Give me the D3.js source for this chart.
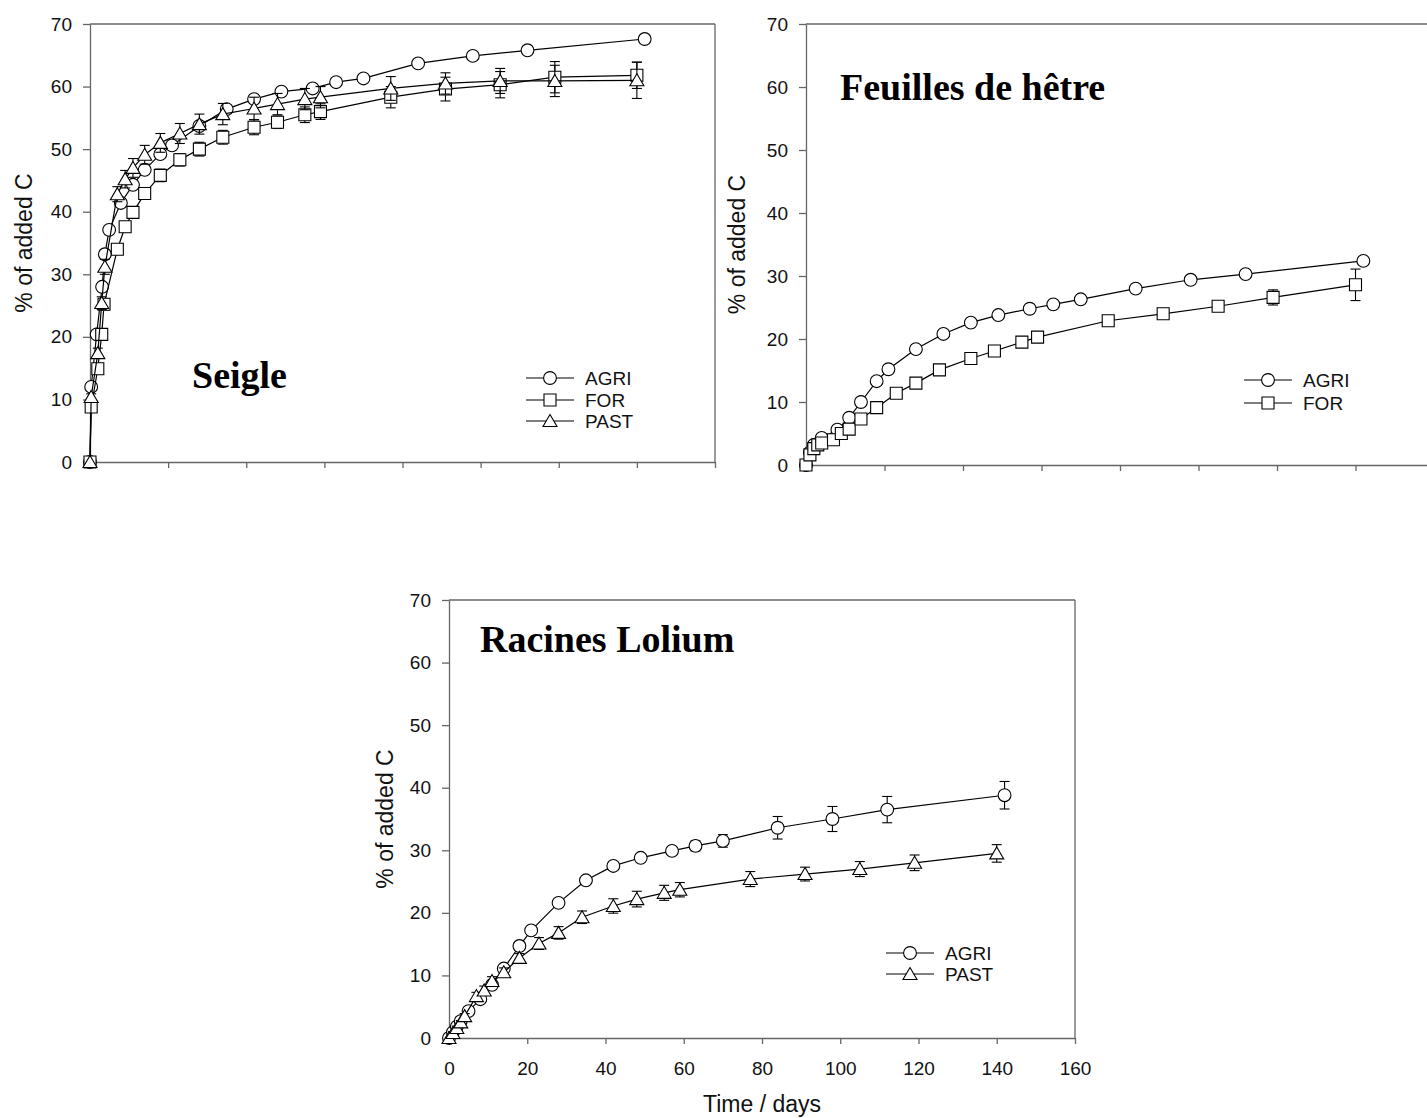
<!DOCTYPE html>
<html>
<head>
<meta charset="utf-8">
<script src="https://cdn.jsdelivr.net/npm/d3@7"></script>
<style>
  body { margin: 0; background: #fff; }
  svg { display: block; }
  .axis path, .axis line { stroke: #666; stroke-width: 1.3; }
  .axis text { font-family: "Liberation Sans", Arial, sans-serif; font-size: 19px; fill: #111; }
  .frame { stroke: #666; stroke-width: 1.3; }
  .curve { fill: none; stroke: #000; stroke-width: 1.2; }
  .err { stroke: #000; stroke-width: 1.1; }
  .mark { fill: #fff; stroke: #000; stroke-width: 1.1; }
  .ylab, .xlab, .leg { font-family: "Liberation Sans", Arial, sans-serif; fill: #111; }
  .title { font-family: "Liberation Serif", "Times New Roman", serif; font-weight: bold; font-size: 38px; }
</style>
</head>
<body>
<script>
// axe commun
const xTicks = [0, 20, 40, 60, 80, 100, 120, 140, 160];
const yTicks = [0, 10, 20, 30, 40, 50, 60, 70];

// Seigle
const seigleAgriDays = [0, 0.3, 1.7, 3.1, 3.8, 4.9, 7.9, 11, 14, 18, 21, 28, 35, 42, 49, 57, 63, 70, 84, 98, 112, 142];
const seigleAgri = [0, 12.0, 20.4, 28.0, 33.2, 37.1, 41.4, 44.3, 46.7, 49.2, 50.6, 53.7, 56.4, 58.0, 59.2, 59.7, 60.7, 61.3, 63.7, 64.9, 65.8, 67.6];
const seigleForDays = [0, 0.3, 2, 3, 3.6, 7, 9, 11, 14, 18, 23, 28, 34, 42, 48, 55, 59, 77, 91, 105, 119, 140];
const seigleFor = [0, 8.8, 14.9, 20.4, 25.2, 34.0, 37.6, 39.9, 42.9, 45.8, 48.3, 50.0, 51.9, 53.5, 54.3, 55.5, 56.0, 58.3, 59.6, 60.3, 61.5, 61.8];
const seigleForErr = [0, 0.5, 0.6, 0.8, 0.9, 0.8, 0.8, 0.9, 0.9, 1.0, 1.0, 1.1, 1.1, 1.2, 1.0, 1.25, 1.25, 1.7, 1.9, 2.1, 2.5, 2.1];
const seiglePastDays = [0, 0.3, 2, 3, 3.8, 7, 9, 11, 14, 18, 23, 28, 34, 42, 48, 55, 59, 77, 91, 105, 119, 140];
const seiglePast = [0, 10.4, 17.4, 25.4, 31.2, 42.8, 45.2, 47.0, 49.1, 51.0, 52.5, 54.0, 55.6, 56.5, 57.2, 58.0, 58.3, 59.7, 60.5, 60.9, 60.9, 61.0];
const seiglePastErr = [0, 0.5, 0.8, 1.0, 1.2, 1.2, 1.4, 1.5, 1.5, 1.5, 1.6, 1.6, 1.7, 1.8, 1.7, 1.7, 1.7, 1.9, 1.7, 2.0, 2.5, 2.9];

// Feuilles de hêtre
const hetreAgriDays = [0, 1, 2, 4, 8, 11, 14, 18, 21, 28, 35, 42, 49, 57, 63, 70, 84, 98, 112, 142];
const hetreAgri = [0, 2.0, 3.2, 4.3, 5.6, 7.5, 10.0, 13.3, 15.2, 18.4, 20.8, 22.6, 23.8, 24.8, 25.5, 26.3, 28.0, 29.4, 30.3, 32.4];
const hetreForDays = [0, 1, 2, 3, 4, 7, 9, 11, 14, 18, 23, 28, 34, 42, 48, 55, 59, 77, 91, 105, 119, 140];
const hetreFor = [0, 1.6, 2.6, 3.2, 3.5, 4.0, 5.0, 5.7, 7.3, 9.1, 11.4, 13.0, 15.1, 16.9, 18.1, 19.5, 20.3, 22.9, 24.0, 25.2, 26.6, 28.6];
const hetreForErr = [0, 0.1, 0.1, 0.1, 0.1, 0.2, 0.2, 0.2, 0.2, 0.3, 0.3, 0.3, 0.3, 0.3, 0.3, 0.4, 0.4, 0.4, 0.4, 0.4, 1.2, 2.5];

// Racines Lolium
const lolAgriDays = [0, 1, 2, 3, 5, 8, 11, 14, 18, 21, 28, 35, 42, 49, 57, 63, 70, 84, 98, 112, 142];
const lolAgri = [0, 0.9, 1.8, 2.7, 4.3, 6.2, 8.5, 11.1, 14.7, 17.2, 21.6, 25.2, 27.5, 28.8, 29.9, 30.7, 31.5, 33.6, 35.0, 36.5, 38.8];
const lolAgriErr = [0, 0, 0, 0, 0, 0.3, 0.4, 0.4, 0.4, 0.4, 0.4, 0.5, 0.5, 0.5, 0.5, 0.8, 1.0, 1.8, 2.0, 2.1, 2.2];
const lolPastDays = [0, 1, 2, 3, 4, 7, 9, 11, 14, 18, 23, 28, 34, 42, 48, 55, 59, 77, 91, 105, 119, 140];
const lolPast = [0, 0.8, 1.6, 2.5, 3.5, 6.7, 7.6, 9.1, 10.5, 12.8, 15.1, 16.8, 19.3, 21.1, 22.2, 23.2, 23.7, 25.4, 26.2, 27.0, 28.0, 29.5];
const lolPastErr = [0, 0.2, 0.3, 0.3, 0.4, 0.6, 0.7, 0.7, 0.7, 0.7, 0.95, 1.0, 1.0, 1.15, 1.25, 1.2, 1.15, 1.2, 1.1, 1.2, 1.25, 1.4];

const svg = d3.select("body").append("svg")
	.attr("width", 1427)
	.attr("height", 1118);

/*
 * symboles façon SigmaPlot : cercle, carré, triangle (centré sur la boîte)
 */
function symbolPath(kind) {
	if (kind === "circle") return d3.symbol(d3.symbolCircle, Math.PI * 6.4 * 6.4)();
	if (kind === "square") return "M-6,-6H6V6H-6Z";
	return "M0,-6.5L7,5.5L-7,5.5Z";
}

function zip(days, vals, errs) {
	return days.map((d, i) => ({ x: d, y: vals[i], e: errs ? errs[i] : 0 }));
}

function drawPanel(p) {
	const x = d3.scaleLinear().domain([0, 160]).range([p.left, p.right]);
	const y = d3.scaleLinear().domain([0, 70]).range([p.bottom, p.top]);
	const g = svg.append("g");

	// cadre haut + droite
	g.append("line").attr("class", "frame")
		.attr("x1", p.left).attr("x2", p.right).attr("y1", p.top).attr("y2", p.top);
	g.append("line").attr("class", "frame")
		.attr("x1", p.right).attr("x2", p.right).attr("y1", p.top).attr("y2", p.bottom);

	g.append("g").attr("class", "axis")
		.attr("transform", "translate(" + p.left + ",0)")
		.call(d3.axisLeft(y).tickValues(yTicks).tickSize(7).tickSizeOuter(0).tickPadding(11));

	const xAxis = d3.axisBottom(x).tickValues(xTicks).tickSize(6).tickSizeOuter(0).tickPadding(18);
	if (!p.xLabels) xAxis.tickFormat("");
	g.append("g").attr("class", "axis")
		.attr("transform", "translate(0," + p.bottom + ")")
		.call(xAxis);

	const line = d3.line().x(d => x(d.x)).y(d => y(d.y));

	p.series.forEach(s => {
		const pts = zip(s.days, s.vals, s.errs);
		g.append("path").datum(pts).attr("class", "curve").attr("d", line);

		const eb = g.append("g");
		pts.filter(d => d.e > 0).forEach(d => {
			const cx = x(d.x), y1 = y(d.y + d.e), y2 = y(d.y - d.e);
			eb.append("line").attr("class", "err").attr("x1", cx).attr("x2", cx).attr("y1", y1).attr("y2", y2);
			eb.append("line").attr("class", "err").attr("x1", cx - 5).attr("x2", cx + 5).attr("y1", y1).attr("y2", y1);
			eb.append("line").attr("class", "err").attr("x1", cx - 5).attr("x2", cx + 5).attr("y1", y2).attr("y2", y2);
		});

		g.append("g").selectAll("path")
			.data(pts)
			.enter().append("path")
			.attr("class", "mark")
			.attr("transform", d => "translate(" + x(d.x) + "," + y(d.y) + ")")
			.attr("d", symbolPath(s.symbol));
	});

	// légende
	p.series.forEach((s, i) => {
		const ly = p.legend.rows[i];
		g.append("line").attr("class", "curve")
			.attr("x1", p.legend.x).attr("x2", p.legend.x + 48).attr("y1", ly).attr("y2", ly);
		g.append("path").attr("class", "mark")
			.attr("transform", "translate(" + (p.legend.x + 24) + "," + ly + ")")
			.attr("d", symbolPath(s.symbol));
		g.append("text").attr("class", "leg")
			.attr("x", p.legend.x + 59).attr("y", ly + 7)
			.style("font-size", "19px")
			.text(s.name);
	});

	g.append("text").attr("class", "title")
		.attr("x", p.titleX).attr("y", p.titleY)
		.text(p.title);

	g.append("text").attr("class", "ylab")
		.attr("transform", "translate(" + p.ylabX + "," + (p.top + p.bottom) / 2 + ") rotate(-90)")
		.attr("text-anchor", "middle")
		.style("font-size", "23px")
		.text("% of added C");

	if (p.xLabels) {
		g.append("text").attr("class", "xlab")
			.attr("x", (p.left + p.right) / 2).attr("y", 1112)
			.attr("text-anchor", "middle")
			.style("font-size", "23px")
			.text("Time / days");
	}
}

drawPanel({
	left: 90, right: 715, top: 24, bottom: 462,
	title: "Seigle", titleX: 192, titleY: 388, ylabX: 32, xLabels: false,
	legend: { x: 526, rows: [378, 400, 421] },
	series: [
		{ name: "AGRI", symbol: "circle", days: seigleAgriDays, vals: seigleAgri },
		{ name: "FOR", symbol: "square", days: seigleForDays, vals: seigleFor, errs: seigleForErr },
		{ name: "PAST", symbol: "triangle", days: seiglePastDays, vals: seiglePast, errs: seiglePastErr }
	]
});

drawPanel({
	left: 806, right: 1434, top: 24, bottom: 465,
	title: "Feuilles de hêtre", titleX: 840, titleY: 100, ylabX: 745, xLabels: false,
	legend: { x: 1244, rows: [380, 403] },
	series: [
		{ name: "AGRI", symbol: "circle", days: hetreAgriDays, vals: hetreAgri },
		{ name: "FOR", symbol: "square", days: hetreForDays, vals: hetreFor, errs: hetreForErr }
	]
});

drawPanel({
	left: 449, right: 1075, top: 600, bottom: 1038,
	title: "Racines Lolium", titleX: 480, titleY: 652, ylabX: 393, xLabels: true,
	legend: { x: 886, rows: [953, 974] },
	series: [
		{ name: "AGRI", symbol: "circle", days: lolAgriDays, vals: lolAgri, errs: lolAgriErr },
		{ name: "PAST", symbol: "triangle", days: lolPastDays, vals: lolPast, errs: lolPastErr }
	]
});
</script>
</body>
</html>
